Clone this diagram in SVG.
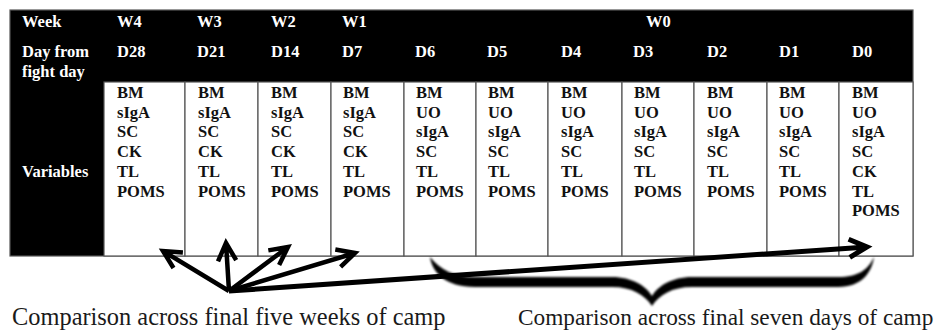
<svg xmlns="http://www.w3.org/2000/svg" width="940" height="331" viewBox="0 0 940 331">
<defs>
<style>
.h{font-weight:bold;font-size:16.5px;fill:#fff}
.v{font-weight:bold;font-size:16.5px;fill:#111}
.cap{fill:#1a1a1a}
.cell{fill:#fff;stroke:#555;stroke-width:1.2}
.arr{fill:none;stroke:#000;stroke-width:4.5;stroke-linecap:butt;stroke-linejoin:miter}
</style>
<filter id="soft" x="-5%" y="-30%" width="110%" height="160%"><feGaussianBlur stdDeviation="0.8"/></filter>
</defs>
<rect width="940" height="331" fill="#fff"/>

<g id="table-frame">
<rect x="10" y="10" width="903" height="246" fill="#000" stroke="#555" stroke-width="1.2"/>
</g>

<g font-family="Liberation Serif, Tinos, Times New Roman, DejaVu Serif, serif">
<g id="row-labels">
<text class="h" x="22" y="27">Week</text>
<text class="h" x="22" y="57">Day from</text>
<text class="h" x="22" y="77">fight day</text>
<text class="h" x="22" y="177">Variables</text>
</g>

<g id="col-d28">
<rect class="cell" x="104" y="82" width="81" height="174"/>
<text class="h" x="117" y="27">W4</text>
<text class="h" x="117" y="57">D28</text>
<text class="v" x="117" y="98">BM</text><text class="v" x="117" y="117.7">sIgA</text><text class="v" x="117" y="137.4">SC</text><text class="v" x="117" y="157.1">CK</text><text class="v" x="117" y="176.8">TL</text><text class="v" x="117" y="196.5">POMS</text>
</g>
<g id="col-d21">
<rect class="cell" x="185" y="82" width="73" height="174"/>
<text class="h" x="197" y="27">W3</text>
<text class="h" x="197" y="57">D21</text>
<text class="v" x="198" y="98">BM</text><text class="v" x="198" y="117.7">sIgA</text><text class="v" x="198" y="137.4">SC</text><text class="v" x="198" y="157.1">CK</text><text class="v" x="198" y="176.8">TL</text><text class="v" x="198" y="196.5">POMS</text>
</g>
<g id="col-d14">
<rect class="cell" x="258" y="82" width="73" height="174"/>
<text class="h" x="271" y="27">W2</text>
<text class="h" x="271" y="57">D14</text>
<text class="v" x="271" y="98">BM</text><text class="v" x="271" y="117.7">sIgA</text><text class="v" x="271" y="137.4">SC</text><text class="v" x="271" y="157.1">CK</text><text class="v" x="271" y="176.8">TL</text><text class="v" x="271" y="196.5">POMS</text>
</g>
<g id="col-d7">
<rect class="cell" x="331" y="82" width="73" height="174"/>
<text class="h" x="342" y="27">W1</text>
<text class="h" x="342" y="57">D7</text>
<text class="v" x="343" y="98">BM</text><text class="v" x="343" y="117.7">sIgA</text><text class="v" x="343" y="137.4">SC</text><text class="v" x="343" y="157.1">CK</text><text class="v" x="343" y="176.8">TL</text><text class="v" x="343" y="196.5">POMS</text>
</g>
<g id="col-d6">
<rect class="cell" x="404" y="82" width="72" height="174"/>
<text class="h" x="415" y="57">D6</text>
<text class="v" x="416" y="98">BM</text><text class="v" x="416" y="117.7">UO</text><text class="v" x="416" y="137.4">sIgA</text><text class="v" x="416" y="157.1">SC</text><text class="v" x="416" y="176.8">TL</text><text class="v" x="416" y="196.5">POMS</text>
</g>
<g id="col-d5">
<rect class="cell" x="476" y="82" width="72" height="174"/>
<text class="h" x="487" y="57">D5</text>
<text class="v" x="488" y="98">BM</text><text class="v" x="488" y="117.7">UO</text><text class="v" x="488" y="137.4">sIgA</text><text class="v" x="488" y="157.1">SC</text><text class="v" x="488" y="176.8">TL</text><text class="v" x="488" y="196.5">POMS</text>
</g>
<g id="col-d4">
<rect class="cell" x="548" y="82" width="74" height="174"/>
<text class="h" x="561" y="57">D4</text>
<text class="v" x="561" y="98">BM</text><text class="v" x="561" y="117.7">UO</text><text class="v" x="561" y="137.4">sIgA</text><text class="v" x="561" y="157.1">SC</text><text class="v" x="561" y="176.8">TL</text><text class="v" x="561" y="196.5">POMS</text>
</g>
<g id="col-d3">
<rect class="cell" x="622" y="82" width="72" height="174"/>
<text class="h" x="646" y="27">W0</text>
<text class="h" x="633" y="57">D3</text>
<text class="v" x="634" y="98">BM</text><text class="v" x="634" y="117.7">UO</text><text class="v" x="634" y="137.4">sIgA</text><text class="v" x="634" y="157.1">SC</text><text class="v" x="634" y="176.8">TL</text><text class="v" x="634" y="196.5">POMS</text>
</g>
<g id="col-d2">
<rect class="cell" x="694" y="82" width="73" height="174"/>
<text class="h" x="707" y="57">D2</text>
<text class="v" x="707" y="98">BM</text><text class="v" x="707" y="117.7">UO</text><text class="v" x="707" y="137.4">sIgA</text><text class="v" x="707" y="157.1">SC</text><text class="v" x="707" y="176.8">TL</text><text class="v" x="707" y="196.5">POMS</text>
</g>
<g id="col-d1">
<rect class="cell" x="767" y="82" width="72" height="174"/>
<text class="h" x="779" y="57">D1</text>
<text class="v" x="779" y="98">BM</text><text class="v" x="779" y="117.7">UO</text><text class="v" x="779" y="137.4">sIgA</text><text class="v" x="779" y="157.1">SC</text><text class="v" x="779" y="176.8">TL</text><text class="v" x="779" y="196.5">POMS</text>
</g>
<g id="col-d0">
<rect class="cell" x="839" y="82" width="74" height="174"/>
<text class="h" x="852" y="57">D0</text>
<text class="v" x="852" y="98">BM</text><text class="v" x="852" y="117.7">UO</text><text class="v" x="852" y="137.4">sIgA</text><text class="v" x="852" y="157.1">SC</text><text class="v" x="852" y="176.8">CK</text><text class="v" x="852" y="196.5">TL</text><text class="v" x="852" y="216.2">POMS</text>
</g>
</g>

<g id="connectors">
<path id="brace" filter="url(#soft)" fill="#000" d="M430,257 C432,272 445,287 475,287 L612,287 C632,287 645,295 652,306 C659,295 672,287 692,287 L838,287 C862,287 872,272 874,257 C868,270 858,277 838,277 L692,277 C672,277 658,286 652,296 C646,286 632,277 612,277 L475,277 C455,277 440,270 430,257 Z"/>
<path class="arr" d="M229,291 L163,251 M173.5,268 L163,251 L182.9,252.5"/>
<path class="arr" d="M229,291 L226,243 M218,261.4 L226,243 L236.2,260.2"/>
<path class="arr" d="M229,291 L288,247 M268.3,250.4 L288,247 L279.1,264.9"/>
<path class="arr" d="M229,291 L355,253 M335.3,249.5 L355,253 L340.6,266.8"/>
<path class="arr" style="stroke-width:5" d="M229,291 L867,247 M848.6,239.2 L867,247 L849.8,257.3"/>
</g>

<g id="captions" font-family="Liberation Serif, Tinos, Times New Roman, DejaVu Serif, serif">
<text class="cap" x="12" y="325" font-size="24.4">Comparison across final five weeks of camp</text>
<text class="cap" x="518" y="325" font-size="23.3">Comparison across final seven days of camp</text>
</g>
</svg>
